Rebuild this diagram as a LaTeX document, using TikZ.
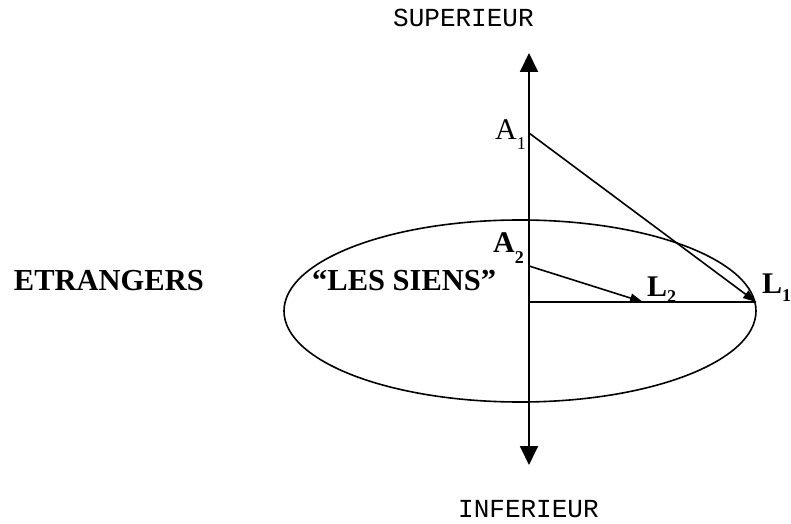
\documentclass[tikz,border=0pt]{standalone}
\usepackage{fontspec}
\setmainfont{Liberation Serif}
\newfontfamily\monofont{Liberation Mono}
\usetikzlibrary{arrows.meta,shapes.geometric}
\tikzset{
  ln/.style={line width=1.6bp, black},
  axisln/.style={line width=1.9bp, black, {Triangle[length=19bp,width=18bp]}-{Triangle[length=19bp,width=18bp]}},
  arr/.style={ln, -{Triangle[length=13bp,width=9bp]}},
  monotxt/.style={inner sep=0, font=\monofont\fontsize{26bp}{30bp}\selectfont},
  boldtxt/.style={inner sep=0, font=\bfseries\fontsize{30.5bp}{34bp}\selectfont},
  lbl/.style={inner sep=0, font=\fontsize{30bp}{34bp}\selectfont},
  blbl/.style={inner sep=0, font=\bfseries\fontsize{30bp}{34bp}\selectfont},
}
\newcommand{\sbs}[2]{\raisebox{-#1}{\fontsize{18bp}{18bp}\selectfont #2}}
\begin{document}
\begin{tikzpicture}[x=1bp,y=-1bp]
\useasboundingbox (0,0) rectangle (791,524);
% ellipse
\node[draw, ln, ellipse, minimum width=472bp, minimum height=182bp, inner sep=0] (ell) at (520,311) {};
% points
\coordinate (top) at (529,53);
\coordinate (bot) at (529,465);
\coordinate (a1) at (529,133);
\coordinate (a2) at (529,266);
\coordinate (o) at (529,302);
\coordinate (l1) at (756,302);
\coordinate (l2) at (643,302);
% axis
\draw[axisln] (bot) -- (top);
% lines
\draw[ln] (o) -- (l1);
\draw[arr] (a1) -- (l1);
\draw[arr] (a2) -- (l2);
% texts
\node[monotxt, anchor=base west] (sup) at (393,27) {SUPERIEUR};
\node[monotxt, anchor=base west] (inf) at (458,517) {INFERIEUR};
\node[boldtxt, anchor=base east] (etr) at (204,291) {ETRANGERS};
\node[boldtxt, anchor=base west] (sie) at (312,291) {“LES SIENS”};
\node[lbl, anchor=base west] (la1) at (495,140) {A\sbs{10bp}{1}};
\node[blbl, anchor=base west] (la2) at (493,253) {A\sbs{11bp}{\bfseries 2}};
\node[blbl, anchor=base west] (ll2) at (647,297) {L\sbs{6bp}{\bfseries 2}};
\node[blbl, anchor=base west] (ll1) at (762,294) {L\sbs{8bp}{\bfseries 1}};
\end{tikzpicture}
\end{document}
